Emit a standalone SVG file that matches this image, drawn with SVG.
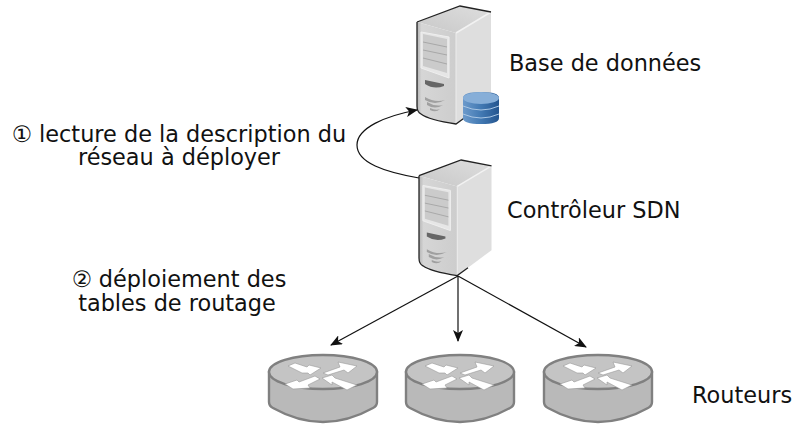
<svg xmlns="http://www.w3.org/2000/svg" xmlns:xlink="http://www.w3.org/1999/xlink" width="792" height="425" viewBox="0 0 792 425">
<style>
text{font-family:"DejaVu Sans",sans-serif;font-size:22.4px;fill:#111}
.m{text-anchor:middle}
.c{fill:none;stroke:#111;stroke-width:1.2}
</style>
<defs>
<linearGradient id="front" x1="0" y1="0" x2="1" y2="0"><stop offset="0" stop-color="#b4b4b4"/><stop offset=".12" stop-color="#d6d6d6"/><stop offset="1" stop-color="#cdcdcd"/></linearGradient>
<linearGradient id="top" x1="0" y1="1" x2="1" y2="0"><stop offset="0" stop-color="#c8c8c8"/><stop offset="1" stop-color="#dedede"/></linearGradient>
<linearGradient id="db" x1="0" y1="0" x2="1" y2="0"><stop offset="0" stop-color="#6c9acb"/><stop offset=".5" stop-color="#4279b3"/><stop offset="1" stop-color="#24558f"/></linearGradient>
<marker id="a" viewBox="0 0 12 10" refX="11" refY="5" markerWidth="12" markerHeight="10" markerUnits="userSpaceOnUse" orient="auto"><path d="M0 0L12 5L0 10L3 5Z" fill="#111"/></marker>
<g id="server">
<path d="M39 27L74 6L74 92L39 118Z" fill="#dedede"/>
<path d="M0 16L43 0L74 6L39 27Z" fill="url(#top)"/>
<path d="M0 16L39 27L39 118Q12 114 4 108Q0 106 0 100Z" fill="url(#front)"/>
<path d="M39 27L74 6" stroke="#f2f2f2" stroke-width="1.5" fill="none"/>
<path d="M39 27L39 118" stroke="#ececec" stroke-width="1" fill="none"/>
<path d="M0 16L43 0L74 6M0 16L0 100Q0 106 4 108Q12 114 39 118L50 110" fill="none" stroke="#222" stroke-width="1.3"/>
<path d="M4 26L32 31L32 72L4 62Z" fill="#e6e6e6" stroke="#efefef"/>
<path d="M6 28L30 33L30 67L6 60Z" fill="#cbcbcb"/>
<path d="M6 36L30 41M6 44L30 49M6 52L30 58" stroke="#a8a8a8" fill="none"/>
<path d="M8 74L27 78L27 80Q17 84 8 78Z" fill="#666"/>
<path d="M8 91Q18 97 28 94Q18 100 8 94ZM10 96Q18 101 26 99Q18 104 10 99ZM13 102Q19 105 23 103Q19 107 13 104Z" fill="#a0a0a0"/>
</g>
<g id="router">
<path d="M-54 0L-54 30Q-54 34 -50 36Q-25 50 0 50Q25 50 50 36Q54 34 54 30L54 0Z" fill="#b9b9b9" stroke="#808080" stroke-width="2.4"/>
<ellipse cx="0" cy="0" rx="54" ry="17" fill="#c4c4c4" stroke="#808080" stroke-width="2.4"/>
<g fill="#fff" stroke="#999" stroke-width=".6">
<path d="M-35 -6L-28 -9L-16 -5L-14 -7L-2 -4L-13 3L-15 1L-21 1Z"/>
<path d="M0 1L17 -5L15 -10L34 -6L25 1L21 -2L5 3Z"/>
<path d="M-38 12L-26 8L-24 10L-8 4L-3 7L-15 13L-13 16L-30 17Z"/>
<path d="M-1 6L9 3L12 6L34 13L24 18L9 10L9 13Z"/>
</g>
</g>
</defs>
<g id="connectors" class="conn">
<path class="c" d="M419 178C385 172 357 163 357 145C357 128 385 116 417 110" marker-end="url(#a)"/>
<path class="c" d="M458 276L331 345" marker-end="url(#a)"/>
<path class="c" d="M458 276L458 341" marker-end="url(#a)"/>
<path class="c" d="M458 276L586 347" marker-end="url(#a)"/>
</g>
<g id="db-server">
<use href="#server" transform="translate(417,6)"/>
<g id="db-icon">
<path d="M463 98Q463 92 481 92Q499 92 499 98L499 118Q499 124 481 124Q463 124 463 118Z" fill="url(#db)"/>
<ellipse cx="481" cy="98" rx="18" ry="6" fill="#86aed8"/>
<path d="M463 106Q481 114 499 106M463 114Q481 122 499 114" fill="none" stroke="#a9c6e4"/>
</g>
<text x="509" y="71">Base de données</text>
</g>
<g id="sdn-controller">
<use href="#server" transform="translate(419,160) scale(.98,.98)"/>
<text x="507" y="218">Contrôleur SDN</text>
</g>
<g id="router-1"><use href="#router" transform="translate(323,372)"/></g>
<g id="router-2"><use href="#router" transform="translate(460,372)"/></g>
<g id="router-3"><use href="#router" transform="translate(598,372)"/></g>
<text x="692" y="403">Routeurs</text>
<text class="m" x="179" y="141.5">① lecture de la description du</text>
<text class="m" x="179" y="165">réseau à déployer</text>
<text class="m" x="179" y="287">② déploiement des</text>
<text class="m" x="177" y="311">tables de routage</text>
</svg>
